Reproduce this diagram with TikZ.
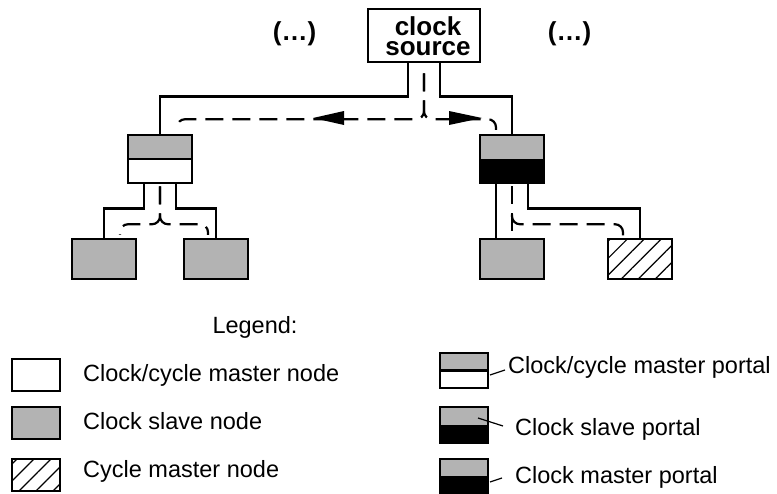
\documentclass[tikz,border=0pt]{standalone}
\usepackage{fontspec}
\setmainfont{Liberation Sans}
\usetikzlibrary{patterns.meta}
\definecolor{nodegray}{RGB}{179,179,179}
\tikzset{
  box/.style={draw=black,line width=2.5pt,inner sep=0pt,minimum width=64pt,minimum height=40pt},
  graybox/.style={box,fill=nodegray},
  hatchbox/.style={box,pattern={Lines[angle=45,distance=12pt,line width=1.2pt]}},
  portalw/.style={box,minimum height=48pt,path picture={\fill[nodegray] (path picture bounding box.north west) rectangle (path picture bounding box.east);
    \draw[line width=2.5pt] (path picture bounding box.west) -- (path picture bounding box.east);}},
  portalb/.style={box,minimum height=48pt,fill=black,path picture={\fill[nodegray] (path picture bounding box.north west) rectangle (path picture bounding box.east);}},
  wire/.style={line width=2.5pt},
  sync/.style={line width=2.2pt,dash pattern=on 18pt off 9pt,rounded corners=8pt},
  leader/.style={line width=1.2pt},
  legtext/.style={font=\fontsize{23.5}{26}\selectfont,inner sep=0pt},
  boldtext/.style={font=\fontsize{26}{20}\selectfont\bfseries,inner sep=0pt}
}
\begin{document}
\begin{tikzpicture}[x=1pt,y=-1pt]
\useasboundingbox (0,0) rectangle (777,493);
% clock source
\node[box,minimum width=112pt,minimum height=53pt] (src) at (424,35.5) {};
\node[boldtext,align=center,anchor=north] (srcT) at (428,16) {clock\\source};
\node[boldtext] (dotsL) at (294.5,34) {(…)};
\node[boldtext] (dotsR) at (569.5,34) {(…)};
% portals
\node[portalw] (lp) at (160,159) {};
\node[portalb] (rp) at (512,159) {};
% end nodes
\node[graybox] (n1) at (104,259) {};
\node[graybox] (n2) at (216,259) {};
\node[graybox] (n3) at (512,259) {};
\node[hatchbox] (n4) at (640,259) {};
% solid wires
\draw[wire] ([xshift=-16pt]src.south) -- ++(0,33) -| (lp.north);
\draw[wire] ([xshift=16pt]src.south) -- ++(0,33) -| (rp.north);
\draw[wire] ([xshift=-16pt]lp.south) -- ++(0,24) -| (n1.north);
\draw[wire] ([xshift=16pt]lp.south) -- ++(0,24) -| (n2.north);
\draw[wire] ([xshift=-16pt]rp.south) -- ([xshift=-16pt]n3.north);
\draw[wire] ([xshift=16pt]rp.south) -- ++(0,24) -| (n4.north);
% dashed sync paths
\draw[sync] ([yshift=-10pt]src.south) -- ++(0,46) -| ([xshift=17pt,yshift=4pt]lp.north);
\draw[sync] ([yshift=-10pt]src.south) -- ++(0,46) -| ([xshift=-16pt,yshift=4pt]rp.north);
\fill (313,118) -- (344,111) -- (344,125) -- cycle;
\fill (482,118) -- (449,111) -- (449,125) -- cycle;
\draw[sync] ([yshift=-2pt]lp.south) -- ++(0,38) -| ([xshift=16pt,yshift=3pt]n1.north);
\draw[sync] ([yshift=-2pt]lp.south) -- ++(0,38) -| ([xshift=-8pt,yshift=3pt]n2.north);
\draw[sync,rounded corners=0pt] ([yshift=-2pt]rp.south) -- (n3.north);
\draw[sync] ([yshift=-30pt]rp.south) -- ++(0,10) -| ([xshift=-17pt,yshift=3pt]n4.north);
% legend
\node[legtext,anchor=base] (leg) at (255,333) {Legend:};
\node[box,minimum width=48pt,minimum height=32pt] (l1) at (36,375) {};
\node[legtext,anchor=base west] (t1) at (83,381) {Clock/cycle master node};
\node[graybox,minimum width=48pt,minimum height=32pt] (l2) at (36,423) {};
\node[legtext,anchor=base west] (t2) at (83,429) {Clock slave node};
\node[hatchbox,minimum width=48pt,minimum height=32pt] (l3) at (36,475) {};
\node[legtext,anchor=base west] (t3) at (83,477) {Cycle master node};
\node[portalw,line width=2pt,minimum width=48pt,minimum height=35pt] (pA) at (464,370.5) {};
\node[legtext,anchor=base west] (tA) at (508,373) {Clock/cycle master portal};
\node[portalb,line width=2pt,minimum width=48pt,minimum height=36pt] (pB) at (464,425) {};
\node[legtext,anchor=base west] (tB) at (515,435) {Clock slave portal};
\node[portalb,line width=2pt,minimum width=48pt,minimum height=34pt] (pC) at (464,476) {};
\node[legtext,anchor=base west] (tC) at (515,483) {Clock master portal};
\draw[leader] (490,375) -- (505,370);
\draw[leader] (478,418) -- (503,426);
\draw[leader] (490,482) -- (502,478);
\end{tikzpicture}
\end{document}
